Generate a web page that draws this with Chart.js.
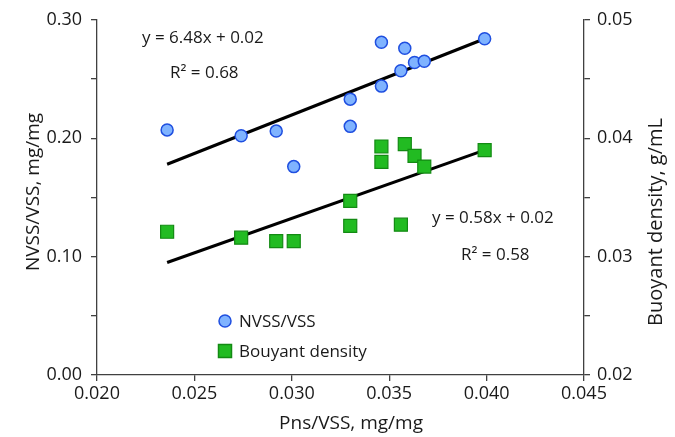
<!DOCTYPE html>
<html>
<head>
<meta charset="utf-8">
<script src="https://cdn.jsdelivr.net/npm/chart.js@4"></script>
<style>
  html, body { margin: 0; padding: 0; background: #fff; }
  #wrap { width: 675px; height: 437px; }
</style>
</head>
<body>
<div id="wrap"><canvas id="chart" width="675" height="437"></canvas></div>
<script>
// Pns/VSS (x) for each sample
var pnsVss = [0.0236, 0.0274, 0.0292, 0.0301, 0.0330, 0.0330, 0.0346, 0.0346, 0.0358, 0.0356, 0.0363, 0.0368, 0.0399];
// NVSS/VSS, left axis
var nvssVss = [0.207, 0.202, 0.206, 0.176, 0.233, 0.210, 0.281, 0.244, 0.276, 0.257, 0.264, 0.265, 0.284];
// buoyant density, right axis
var density = [0.0321, 0.0316, 0.0313, 0.0313, 0.0347, 0.0326, 0.0393, 0.0380, 0.0395, 0.0327, 0.0385, 0.0376, 0.0390];
// trend line end points
var trendX = [0.0236, 0.0399];
var trendNvss = [0.178, 0.284];
var trendDensity = [0.0295, 0.0390];

var xTicks = [0.020, 0.025, 0.030, 0.035, 0.040, 0.045];
var leftLabels = ['0.00', '0.10', '0.20', '0.30'];
var rightLabels = ['0.02', '0.03', '0.04', '0.05'];

var FONT = '"Open Sans", Lato, sans-serif';
var axisColor = '#404040';

function toPoints(xs, ys) {
  return xs.map(function (x, i) { return { x: x, y: ys[i] }; });
}

// labels only on the major ticks, minor ticks stay blank
function majorLabel(list, min, step) {
  return function (value) {
    var k = (value - min) / step;
    if (Math.abs(k - Math.round(k)) < 1e-6) return list[Math.round(k)];
    return '';
  };
}

var overlay = {
  id: 'overlay',
  afterDraw: function (chart) {
    var ctx = chart.ctx;
    ctx.save();
    ctx.fillStyle = '#1a1a1a';
    ctx.textBaseline = 'middle';
    ctx.textAlign = 'left';
    ctx.font = '17px ' + FONT;
    ctx.fillText('y = 6.48x + 0.02', 142, 38);
    ctx.fillText('R² = 0.68', 170, 73);
    ctx.fillText('y = 0.58x + 0.02', 432, 218);
    ctx.fillText('R² = 0.58', 461, 255);

    // legend
    ctx.fillText('NVSS/VSS', 239, 322);
    ctx.fillText('Bouyant density', 239, 352);
    ctx.beginPath();
    ctx.arc(225, 321, 6, 0, Math.PI * 2);
    ctx.fillStyle = '#7fb3ff';
    ctx.fill();
    ctx.lineWidth = 1.5;
    ctx.strokeStyle = '#1f4fe0';
    ctx.stroke();
    ctx.fillStyle = '#22bb22';
    ctx.fillRect(218.5, 344.5, 13, 13);
    ctx.strokeStyle = '#138a13';
    ctx.strokeRect(218.5, 344.5, 13, 13);

    // axis titles
    ctx.fillStyle = '#1a1a1a';
    ctx.font = '19px ' + FONT;
    ctx.textAlign = 'center';
    ctx.fillText('Pns/VSS, mg/mg', 351, 424);
    ctx.translate(34, 192);
    ctx.rotate(-Math.PI / 2);
    ctx.fillText('NVSS/VSS, mg/mg', 0, 0);
    ctx.setTransform(1, 0, 0, 1, 0, 0);
    ctx.font = '20px ' + FONT;
    ctx.translate(656, 222);
    ctx.rotate(-Math.PI / 2);
    ctx.fillText('Buoyant density, g/mL', 0, 0);
    ctx.restore();
  }
};

var tickFont = { family: FONT, size: 18 };

new Chart(document.getElementById('chart'), {
  type: 'scatter',
  data: {
    datasets: [
      {
        label: 'NVSS/VSS fit',
        type: 'line',
        data: toPoints(trendX, trendNvss),
        yAxisID: 'y',
        borderColor: '#000',
        borderWidth: 3,
        pointRadius: 0,
        fill: false,
        order: 3
      },
      {
        label: 'Density fit',
        type: 'line',
        data: toPoints(trendX, trendDensity),
        yAxisID: 'y2',
        borderColor: '#000',
        borderWidth: 3,
        pointRadius: 0,
        fill: false,
        order: 4
      },
      {
        label: 'NVSS/VSS',
        data: toPoints(pnsVss, nvssVss),
        yAxisID: 'y',
        pointStyle: 'circle',
        pointRadius: 6,
        backgroundColor: '#7fb3ff',
        borderColor: '#1f4fe0',
        borderWidth: 1.5,
        order: 1
      },
      {
        label: 'Bouyant density',
        data: toPoints(pnsVss, density),
        yAxisID: 'y2',
        pointStyle: 'rect',
        pointRadius: 9.2,
        backgroundColor: '#22bb22',
        borderColor: '#138a13',
        borderWidth: 1.2,
        order: 2
      }
    ]
  },
  options: {
    responsive: false,
    animation: false,
    layout: { padding: { top: 19, left: 0, right: 0, bottom: 0 } },
    plugins: { legend: { display: false }, tooltip: { enabled: false } },
    scales: {
      x: {
        type: 'linear',
        min: 0.020,
        max: 0.045,
        afterBuildTicks: function (scale) {
          scale.ticks = xTicks.map(function (v) { return { value: v }; });
        },
        ticks: {
          font: tickFont,
          color: '#1a1a1a',
          padding: 2,
          maxRotation: 0,
          callback: function (v) { return v.toFixed(3); }
        },
        grid: { drawOnChartArea: false, color: axisColor, tickLength: 6, lineWidth: 1.3 },
        border: { color: axisColor, width: 1.3 },
        afterFit: function (scale) { scale.height = 62; }
      },
      y: {
        position: 'left',
        min: 0,
        max: 0.30,
        ticks: {
          stepSize: 0.05,
          font: tickFont,
          color: '#1a1a1a',
          padding: 9,
          callback: majorLabel(leftLabels, 0, 0.10)
        },
        grid: { drawOnChartArea: false, color: axisColor, tickLength: 6, lineWidth: 1.3 },
        border: { color: axisColor, width: 1.3 },
        afterFit: function (scale) { scale.width = 97; }
      },
      y2: {
        position: 'right',
        min: 0.02,
        max: 0.05,
        ticks: {
          stepSize: 0.005,
          font: tickFont,
          color: '#1a1a1a',
          padding: 7,
          callback: majorLabel(rightLabels, 0.02, 0.01)
        },
        grid: { drawOnChartArea: false, color: axisColor, tickLength: 6, lineWidth: 1.3 },
        border: { color: axisColor, width: 1.3 },
        afterFit: function (scale) { scale.width = 91; }
      }
    }
  },
  plugins: [overlay]
});
</script>
</body>
</html>
